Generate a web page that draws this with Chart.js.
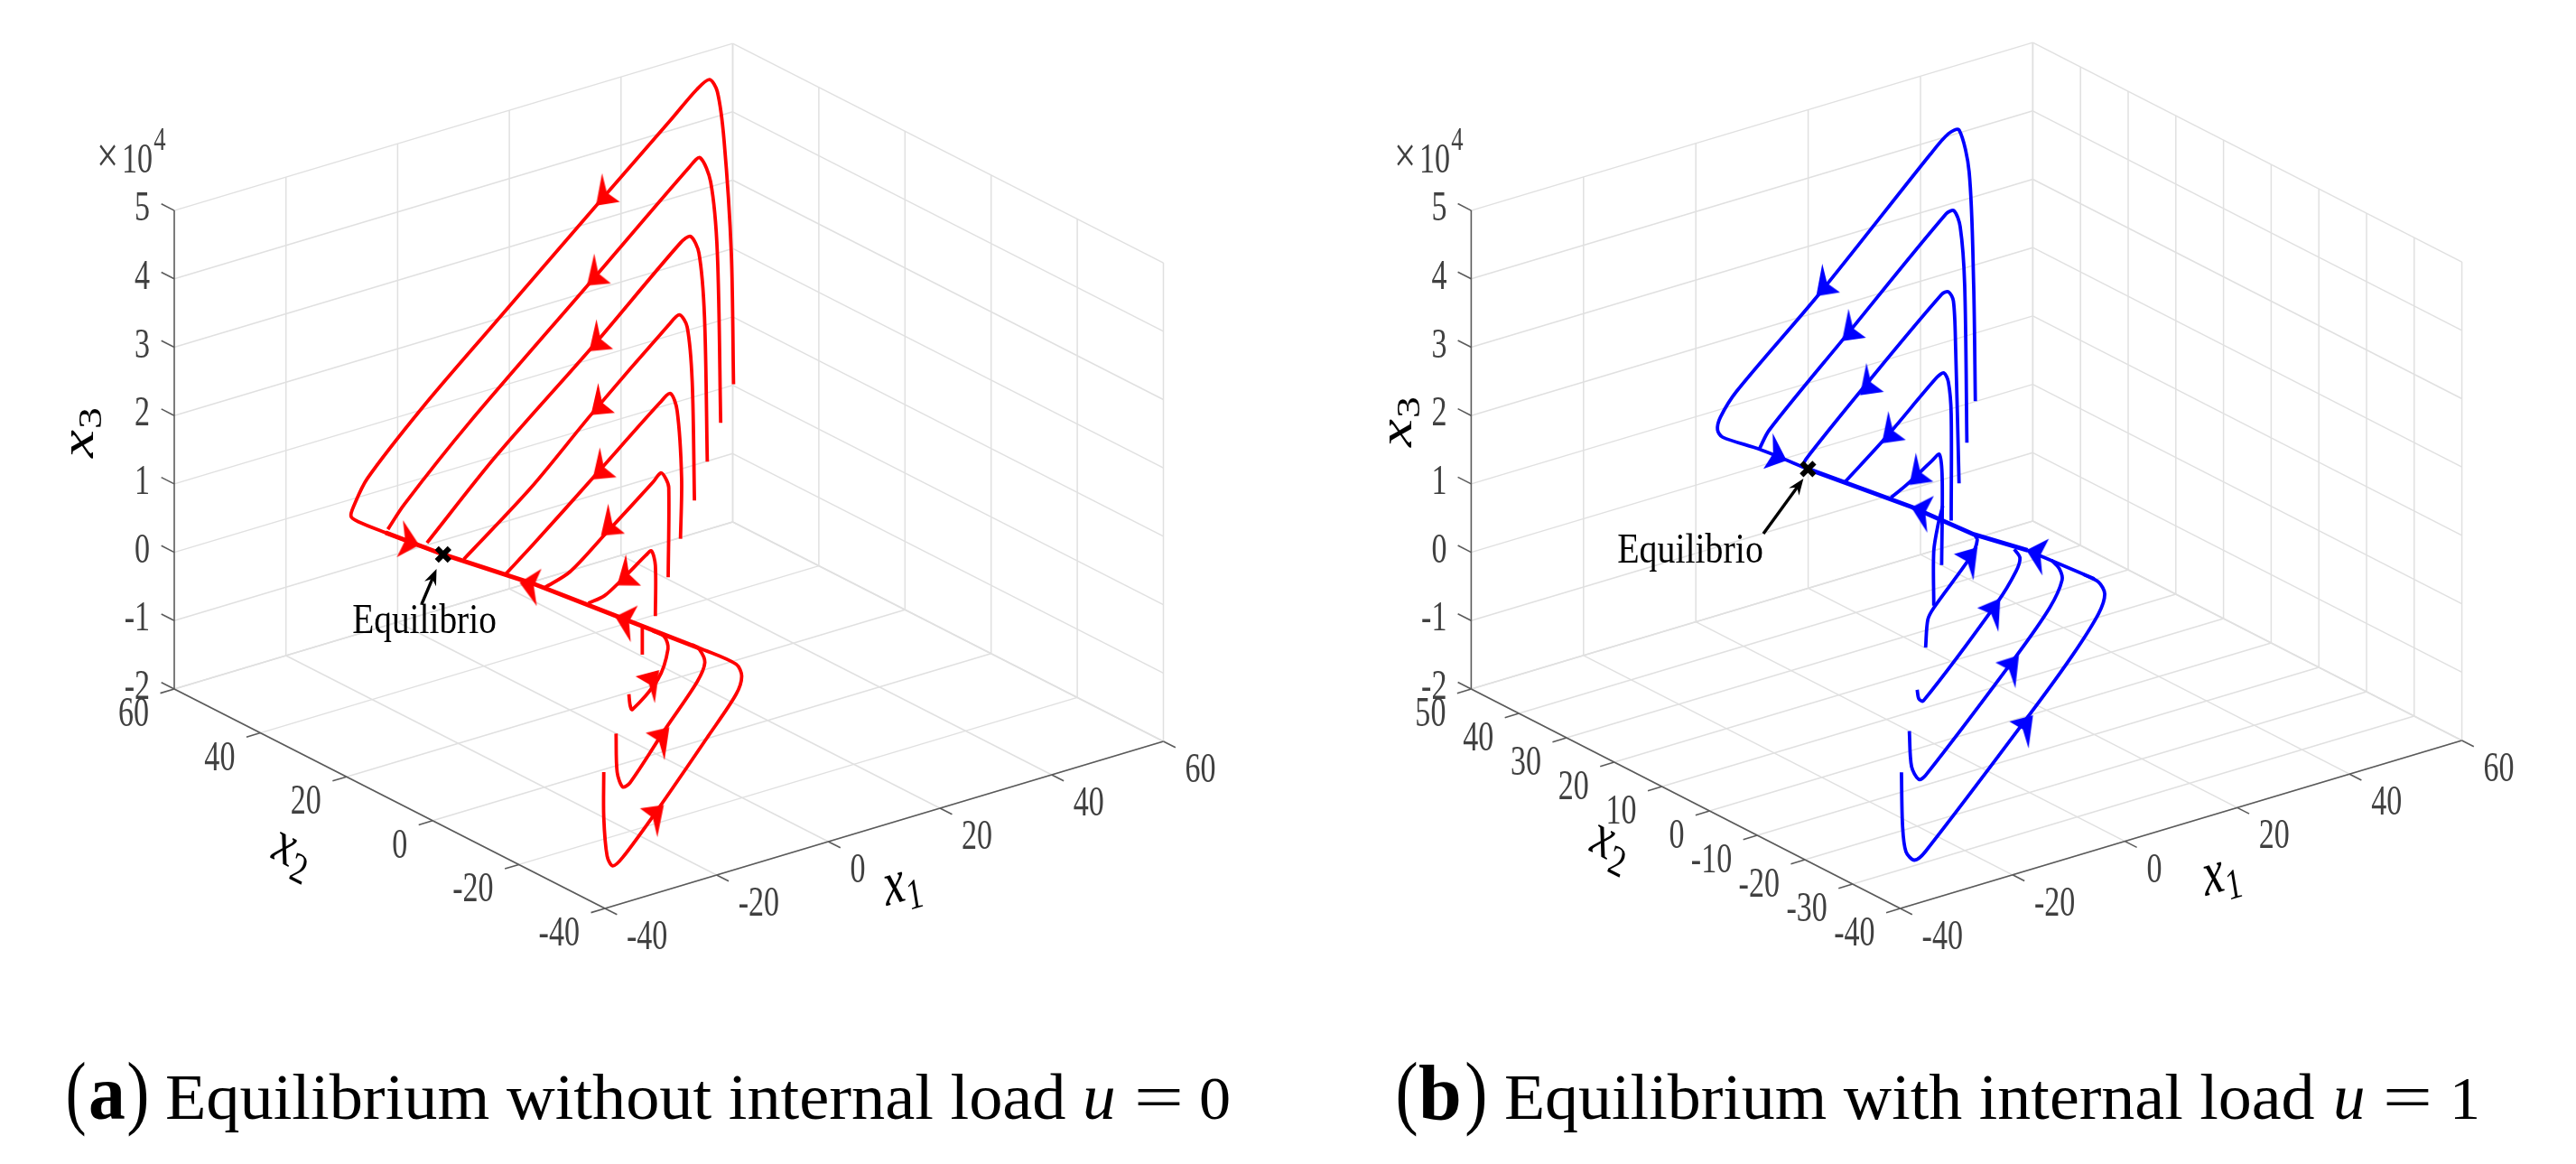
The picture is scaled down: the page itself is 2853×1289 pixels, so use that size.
<!DOCTYPE html>
<html lang="en">
<head>
<meta charset="UTF-8">
<title>Equilibrium with and without internal load</title>
<script src="https://cdn.jsdelivr.net/npm/chart.js"></script>
<style>
    html, body { margin: 0; padding: 0; background: #fff; }
    canvas { position: absolute; top: 0; }
</style>
</head>
<body>
<canvas id="chartA" width="1426" height="1289" style="left:0"></canvas>
<canvas id="chartB" width="1427" height="1289" style="left:1426px"></canvas>
<script>
// axis ticks
const x1Ticks = [-40, -20, 0, 20, 40, 60];
const x3Ticks = [-2, -1, 0, 1, 2, 3, 4, 5];
const x2TicksA = [-40, -20, 0, 20, 40, 60];
const x2TicksB = [-40, -30, -20, -10, 0, 10, 20, 30, 40, 50];

// trajectories, u = 0 (x3 in units of 10^4)
const redX2 = [20, 20, 20, 20, 20, 20, 20, -30, -30, -30, -30];
const redX1 = [
    [29.3, 28.9, 27.6, 26.4, 25.0, 22.7, 18.2, 5.4, -14.0, -26.4, -36.3, -38.7, -39.2, -37.9, -33, -22.7],
    [27, 26.4, 25.2, 23.3, 21.4, 3.7, -18.2, -29.7, -32.6],
    [24.6, 24.1, 23.1, 21.6, 19.8, 4.1, -13.2, -25.6],
    [22.3, 21.9, 21, 19.6, 17.7, 4.1, -7, -19],
    [19.8, 20, 19.2, 18, 16.1, 4.5, -6.6, -11.5],
    [17.6, 17.7, 17.2, 16.3, 14.9, 6.2, 0, -4.5],
    [15.3, 15.3, 14.6, 13.6, 9.5, 6.2, 3.3],
    [-32.5, -32.5, -31.9, -30.9, -29.1, -22.8, -13.8, -8.8, -7.8, -8.8, -15.4],
    [-30.3, -30.1, -29.1, -27.8, -21.6, -15.8, -14.4, -15.4, -16.7],
    [-28, -27.8, -27.4, -22.8, -21, -21.6, -23.7],
    [-25.6, -25.6]
];
const redX3 = [
    [2.05, 3.98, 5.66, 6.40, 6.61, 6.52, 6.20, 5.31, 3.95, 3.07, 2.27, 1.93, 1.79, 1.68, 1.40, 0.83],
    [1.54, 4.04, 5.11, 5.51, 5.42, 4.17, 2.63, 1.73, 1.44],
    [1.03, 3.16, 4.12, 4.40, 4.35, 3.22, 2.04, 1.07],
    [0.52, 2.26, 3.09, 3.30, 3.20, 2.25, 1.42, 0.67],
    [0.02, 0.90, 1.91, 2.19, 2.10, 1.32, 0.58, 0.27],
    [-0.49, 0.82, 0.96, 1.07, 0.97, 0.41, 0.02, -0.10],
    [-1.00, -0.26, -0.03, -0.07, -0.31, -0.48, -0.52],
    [-0.51, -1.17, -1.75, -1.92, -1.84, -1.29, -0.44, 0.05, 0.29, 0.49, 0.89],
    [0.00, -0.57, -0.81, -0.78, -0.16, 0.40, 0.65, 0.87, 0.97],
    [0.52, 0.36, 0.28, 0.61, 1.01, 1.20, 1.34],
    [1.04, 1.46]
];
const redLineX1 = [-33, -22.7, -6.6, 8.7, 23.1];
const redLineX2 = [20, 20, 20, 20, 20];
const redLineX3 = [1.40, 0.83, 0.01, -0.85, -1.66];
const redArrowX1 = [4.9, 3.3, 3.7, 4, 4.3, 5.8, 8.7, -27.3, -8.7, 8.4, -22.8, -21, -22];
const redArrowX2 = [20, 20, 20, 20, 20, 20, 20, 20, 20, 20, -30, -30, -30];
const redArrowX3 = [5.28, 4.15, 3.18, 2.24, 1.29, 0.43, -0.37, 1.09, 0.07, -0.85, 0.72, -0.16, -1.27];
const redArrowDir = [139, 142, 142, 142, 142, 142, 146, 13, 190, 195, -45, -44, -40];
const redEquilibrium = [-22.7, 20, 0.83];

// trajectories, u = 1
const blueX2 = [20, 20, 20, 20, 20, 20, 20, -30, -30, -30, -30];
const blueX1 = [
    [24.3, 24, 23.2, 21.4, 19.5, 16.3, -3.4, -18.2, -21.1, -21.6, -20.7, -14.1, -5.5],
    [22.8, 22.4, 21.6, 20.5, 19.1, 1.1, -12.4, -14.2],
    [21.4, 20.8, 20.4, 19.5, 18.3, 4.8, -5.9, -6.5],
    [20, 20, 19.5, 18.7, 17.5, 8.5, 1.1],
    [18.3, 18.4, 17.9, 16.6, 12.1, 9.3],
    [16.9, 16.9, 17.7, 18.5],
    [33.6, 45.5],
    [-31.3, -31.1, -30.5, -29, -27, -8.2, -0.9, 3.8, 4.9, 3.8, 1.1],
    [-29.9, -29.5, -28.2, -27, -11.2, -4.9, -2.7, -3.2, -4.6],
    [-28.5, -28.2, -27.4, -14.2, -10.9, -10.2, -11.2],
    [-27, -26.6, -25.5, -18.8, -17.8, -18.4]
];
const blueX3 = [
    [1.70, 3.41, 5.08, 5.74, 5.73, 5.51, 3.96, 2.89, 2.58, 2.41, 2.28, 1.94, 1.44],
    [1.13, 3.45, 4.32, 4.58, 4.57, 3.21, 2.18, 1.94],
    [0.57, 2.54, 3.26, 3.42, 3.41, 2.42, 1.59, 1.49],
    [0.06, 1.62, 2.10, 2.25, 2.22, 1.57, 1.09],
    [-0.55, 0.71, 1.08, 1.02, 0.78, 0.66],
    [-1.11, -0.31, 0.07, 0.31],
    [-0.71, -1.42],
    [-0.58, -1.37, -1.76, -1.92, -1.84, -0.27, 0.38, 0.88, 1.14, 1.34, 1.52],
    [-0.01, -0.54, -0.76, -0.73, 0.59, 1.18, 1.53, 1.71, 1.87],
    [0.56, 0.42, 0.37, 1.49, 1.86, 2.04, 2.19],
    [1.14, 1.54, 1.69, 2.29, 2.49, 2.59]
];
const blueLineX1 = [-5.5, 13, 24, 33.6];
const blueLineX2 = [20, 20, 20, 20];
const blueLineX3 = [1.44, 0.43, -0.24, -0.71];
const blueArrowX1 = [-3.8, 0.8, 4, 7.9, 12.8, -9.6, 13.2, 33.7, -18, -13.9, -10.6, -8.1];
const blueArrowX2 = [20, 20, 20, 20, 20, 20, 20, 20, -30, -30, -30, -30];
const blueArrowX3 = [3.95, 3.18, 2.31, 1.51, 0.78, 1.68, 0.41, -0.72, 2.36, 1.51, 0.60, -0.34];
const blueArrowDir = [139, 140, 140, 140, 140, 20, 194, 194, -46, -51, -47, -45];
const blueEquilibrium = [-5.5, 20, 1.44];

const GRID = '#e0e0e0';
const AXIS = '#5a5a5a';
const TEXT = '#404040';
const SERIF = '"Liberation Serif"';
const SQUEEZE = 0.74; // the figure is stretched vertically, glyphs are narrowed to match

// arrow head as a small canvas, tip at the centre
function arrowHead(color, dir) {
    const c = document.createElement('canvas');
    c.width = 90; c.height = 90;
    const g = c.getContext('2d');
    g.translate(45, 45);
    g.scale(1, 1.4);
    g.rotate(dir * Math.PI / 180);
    g.fillStyle = color;
    g.beginPath();
    g.moveTo(2, 0);
    g.lineTo(-20, -15);
    g.lineTo(-14, 0);
    g.lineTo(-20, 15);
    g.closePath();
    g.fill();
    return c;
}

function text(ctx, str, x, y, font, align, color, rot) {
    ctx.save();
    ctx.translate(x, y);
    ctx.scale(SQUEEZE, 1);
    if (rot) ctx.rotate(rot);
    ctx.font = font;
    ctx.textAlign = align;
    ctx.textBaseline = 'alphabetic';
    ctx.fillStyle = color;
    ctx.fillText(str, 0, 0);
    ctx.restore();
}

// x with a subscript, centred on x,y
function mathLabel(ctx, sub, x, y, rot) {
    ctx.save();
    ctx.translate(x, y);
    ctx.scale(SQUEEZE, 1);
    ctx.rotate(rot);
    ctx.fillStyle = '#000';
    ctx.textBaseline = 'alphabetic';
    ctx.font = 'italic 70px ' + SERIF;
    ctx.fillText('x', -30, 10);
    ctx.font = '48px ' + SERIF;
    ctx.fillText(sub, 2, 22);
    ctx.restore();
}

// text piece squeezed so its ink fills a pixel span
function fitText(ctx, str, x0, x1, y, font) {
    ctx.save();
    ctx.font = font;
    ctx.textAlign = 'left';
    ctx.textBaseline = 'alphabetic';
    ctx.fillStyle = '#000';
    const m = ctx.measureText(str);
    const k = (x1 - x0) / (m.actualBoundingBoxRight + m.actualBoundingBoxLeft);
    ctx.translate(x0, y);
    ctx.scale(k, 1);
    ctx.fillText(str, m.actualBoundingBoxLeft, 0);
    ctx.restore();
}

function drawChart(id, cfg) {
    const { view, x2Ticks, xMin, xMax } = cfg;
    const x2Min = x2Ticks[0], x2Max = x2Ticks[x2Ticks.length - 1];
    const x1Min = x1Ticks[0], x1Max = x1Ticks[x1Ticks.length - 1];
    const x3Min = x3Ticks[0], x3Max = x3Ticks[x3Ticks.length - 1];

    const project = (x1, x2, x3) => ({
        x: view.ox + view.a * (x1 - x1Min) + view.b * (x2 - x2Min),
        y: view.oy + view.c * (x1 - x1Min) + view.d * (x2 - x2Min) + view.e * (x3 - x3Min)
    });
    const seg = (p, q, color, width, order) => ({
        data: [project(...p), project(...q)], showLine: true, borderColor: color,
        borderWidth: width, pointRadius: 0, tension: 0, order: order
    });

    const datasets = [];
    // back walls and floor
    x1Ticks.forEach(v => {
        datasets.push(seg([v, x2Min, x3Min], [v, x2Max, x3Min], GRID, 1.5, 20));
        if (v > x1Min) datasets.push(seg([v, x2Max, x3Min], [v, x2Max, x3Max], GRID, 1.5, 20));
    });
    x2Ticks.forEach(v => {
        datasets.push(seg([x1Min, v, x3Min], [x1Max, v, x3Min], GRID, 1.5, 20));
        datasets.push(seg([x1Max, v, x3Min], [x1Max, v, x3Max], GRID, 1.5, 20));
    });
    x3Ticks.forEach(v => {
        datasets.push(seg([x1Min, x2Max, v], [x1Max, x2Max, v], GRID, 1.5, 20));
        datasets.push(seg([x1Max, x2Max, v], [x1Max, x2Min, v], GRID, 1.5, 20));
    });
    // axes and tick marks
    datasets.push(seg([x1Min, x2Max, x3Min], [x1Min, x2Max, x3Max], AXIS, 1.6, 15));
    datasets.push(seg([x1Min, x2Max, x3Min], [x1Min, x2Min, x3Min], AXIS, 1.6, 15));
    datasets.push(seg([x1Min, x2Min, x3Min], [x1Max, x2Min, x3Min], AXIS, 1.6, 15));
    x3Ticks.forEach(v => datasets.push(seg([x1Min, x2Max, v], [x1Min, x2Max + cfg.z3Tick, v], AXIS, 1.6, 15)));
    x2Ticks.forEach(v => datasets.push(seg([x1Min, v, x3Min], [x1Min - 2.5, v, x3Min], AXIS, 1.6, 15)));
    x1Ticks.forEach(v => datasets.push(seg([v, x2Min, x3Min], [v, x2Min - cfg.x2Tick, x3Min], AXIS, 1.6, 15)));

    // trajectories
    cfg.x1.forEach((xs, i) => {
        datasets.push({
            data: xs.map((v, k) => project(v, cfg.x2[i], cfg.x3[i][k])),
            showLine: true, borderColor: cfg.color, borderWidth: 3.8,
            pointRadius: 0, tension: 0.3, order: 5
        });
    });
    datasets.push({
        data: cfg.lineX1.map((v, k) => project(v, cfg.lineX2[k], cfg.lineX3[k])),
        showLine: true, borderColor: cfg.color, borderWidth: 5,
        pointRadius: 0, tension: 0, order: 4
    });
    // arrow heads
    datasets.push({
        data: cfg.arrowX1.map((v, k) => project(v, cfg.arrowX2[k], cfg.arrowX3[k])),
        showLine: false,
        pointStyle: cfg.arrowDir.map(d => arrowHead(cfg.color, d)),
        pointRadius: 12, order: 3
    });
    // equilibrium
    datasets.push({
        data: [project(...cfg.equilibrium)], showLine: false, pointStyle: 'crossRot',
        pointRadius: 10, borderWidth: 6, borderColor: '#000', backgroundColor: '#000', order: 1
    });

    const labels = {
        id: 'labels',
        afterDraw(chart) {
            const ctx = chart.ctx;
            ctx.save();
            ctx.translate(-xMin, 0);
            const tickFont = '46px ' + SERIF;
            x3Ticks.forEach(v => {
                const p = project(x1Min, x2Max, v);
                text(ctx, String(v), p.x - 27, p.y + 11, tickFont, 'right', TEXT);
            });
            x2Ticks.forEach(v => {
                const p = project(x1Min, v, x3Min);
                text(ctx, String(v), p.x - 28, p.y + 41, tickFont, 'right', TEXT);
            });
            x1Ticks.forEach(v => {
                const p = project(v, x2Min, x3Min);
                text(ctx, String(v), p.x + 24, p.y + 45, tickFont, 'left', TEXT);
            });
            const o = cfg.dx;
            // exponent
            text(ctx, '×', 119 + o, 191, '58px ' + SERIF, 'center', TEXT);
            text(ctx, '10', 152 + o, 191, tickFont, 'center', TEXT);
            text(ctx, '4', 177 + o, 166, '36px ' + SERIF, 'center', TEXT);
            // axis names
            mathLabel(ctx, '3', cfg.x3Label[0], cfg.x3Label[1], -Math.PI / 2);
            mathLabel(ctx, '2', cfg.x2Label[0], cfg.x2Label[1], 0.36);
            mathLabel(ctx, '1', cfg.x1Label[0], cfg.x1Label[1], -0.22);
            // annotation
            const [tx, ty, hx, hy] = cfg.note;
            const ang = Math.atan2(hy - ty, hx - tx);
            ctx.strokeStyle = '#000';
            ctx.lineWidth = 3.4;
            ctx.beginPath();
            ctx.moveTo(tx, ty);
            ctx.lineTo(hx - 8 * Math.cos(ang), hy - 8 * Math.sin(ang));
            ctx.stroke();
            ctx.fillStyle = '#000';
            ctx.beginPath();
            ctx.moveTo(hx, hy);
            ctx.lineTo(hx - 18 * Math.cos(ang) - 7 * Math.sin(ang), hy - 18 * Math.sin(ang) + 7 * Math.cos(ang));
            ctx.lineTo(hx - 12 * Math.cos(ang), hy - 12 * Math.sin(ang));
            ctx.lineTo(hx - 18 * Math.cos(ang) + 7 * Math.sin(ang), hy - 18 * Math.sin(ang) - 7 * Math.cos(ang));
            ctx.closePath();
            ctx.fill();
            fitText(ctx, 'Equilibrio', cfg.noteText[0], cfg.noteText[1], cfg.noteText[2], '46px ' + SERIF);
            // caption
            cfg.caption.forEach(c => fitText(ctx, c[0], c[1], c[2], 1239, c[3]));
            ctx.restore();
        }
    };

    new Chart(document.getElementById(id).getContext('2d'), {
        type: 'scatter',
        data: { datasets },
        plugins: [labels],
        options: {
            responsive: false,
            animation: false,
            events: [],
            layout: { padding: 0, autoPadding: false },
            plugins: { legend: { display: false }, tooltip: { enabled: false } },
            scales: {
                x: { type: 'linear', display: false, min: xMin, max: xMax },
                y: { type: 'linear', display: false, min: 0, max: 1289, reverse: true }
            }
        }
    });
}

drawChart('chartA', {
    view: { ox: 670, oy: 1006, a: 6.185, b: -4.77, c: -1.85, d: -2.43, e: -75.7 },
    xMin: 0, xMax: 1426, dx: 0,
    x2Ticks: x2TicksA, z3Tick: 3, x2Tick: 2.8,
    color: '#ff0000',
    x1: redX1, x2: redX2, x3: redX3,
    lineX1: redLineX1, lineX2: redLineX2, lineX3: redLineX3,
    arrowX1: redArrowX1, arrowX2: redArrowX2, arrowX3: redArrowX3, arrowDir: redArrowDir,
    equilibrium: redEquilibrium,
    x3Label: [96, 477], x2Label: [323, 951], x1Label: [1002, 987],
    note: [467, 669, 483.5, 630], noteText: [391, 549, 701],
    caption: [
        ['(', 75, 94, '90px ' + SERIF],
        ['a', 100, 138, 'bold 86px ' + SERIF],
        [')', 142, 163, '90px ' + SERIF],
        ['Equilibrium without internal load', 185, 1180, '71px ' + SERIF],
        ['u', 1202, 1233, 'italic 71px ' + SERIF],
        ['=', 1260, 1307, '71px ' + SERIF],
        ['0', 1330, 1361, '68px ' + SERIF]
    ]
});

drawChart('chartB', {
    view: { ox: 2104.6, oy: 1006, a: 6.22, b: -5.28, c: -1.86, d: -2.7, e: -75.7 },
    xMin: 1426, xMax: 2853, dx: 1437,
    x2Ticks: x2TicksB, z3Tick: 2.8, x2Tick: 2.5,
    color: '#0000ff',
    x1: blueX1, x2: blueX2, x3: blueX3,
    lineX1: blueLineX1, lineX2: blueLineX2, lineX3: blueLineX3,
    arrowX1: blueArrowX1, arrowX2: blueArrowX2, arrowX3: blueArrowX3, arrowDir: blueArrowDir,
    equilibrium: blueEquilibrium,
    x3Label: [1556, 465], x2Label: [1783, 943], x1Label: [2463, 976],
    note: [1953, 591, 1997.4, 530], noteText: [1792, 1952, 623],
    caption: [
        ['(', 1548, 1569, '90px ' + SERIF],
        ['b', 1572, 1616, 'bold 86px ' + SERIF],
        [')', 1624, 1645, '90px ' + SERIF],
        ['Equilibrium with internal load', 1668, 2563, '71px ' + SERIF],
        ['u', 2587, 2617, 'italic 71px ' + SERIF],
        ['=', 2643, 2690, '71px ' + SERIF],
        ['1', 2718, 2743, '68px ' + SERIF]
    ]
});
</script>
</body>
</html>
